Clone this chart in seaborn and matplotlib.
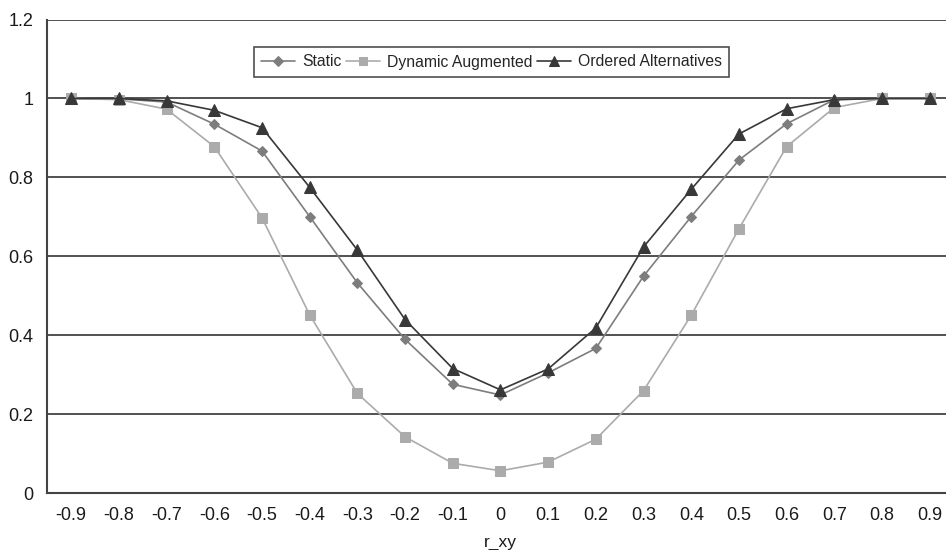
import matplotlib
matplotlib.use("Agg")
import matplotlib.pyplot as plt
import matplotlib.ticker as ticker
import pandas as pd
import seaborn as sns

r_xy = ['-0.9', '-0.8', '-0.7', '-0.6', '-0.5', '-0.4', '-0.3', '-0.2', '-0.1', '0',
        '0.1', '0.2', '0.3', '0.4', '0.5', '0.6', '0.7', '0.8', '0.9']

static = [1.0, 0.999, 0.991, 0.935, 0.867, 0.701, 0.533, 0.390, 0.276, 0.249,
          0.305, 0.367, 0.550, 0.701, 0.844, 0.936, 0.997, 1.0, 1.0]
dynamic_augmented = [1.0, 0.997, 0.973, 0.878, 0.698, 0.452, 0.253, 0.143, 0.076, 0.057,
                     0.079, 0.137, 0.260, 0.451, 0.670, 0.878, 0.977, 1.0, 1.0]
ordered_alternatives = [1.0, 1.0, 0.994, 0.970, 0.926, 0.775, 0.616, 0.440, 0.316, 0.262,
                        0.315, 0.419, 0.624, 0.770, 0.910, 0.974, 0.997, 1.0, 1.0]

series = ['Static', 'Dynamic Augmented', 'Ordered Alternatives']
colors = {'Static': '#7d7d7d', 'Dynamic Augmented': '#ababab', 'Ordered Alternatives': '#383838'}
markers = {'Static': 'D', 'Dynamic Augmented': 's', 'Ordered Alternatives': '^'}
sizes = {'Static': 5.5, 'Dynamic Augmented': 7, 'Ordered Alternatives': 8}

dt = pd.DataFrame({'pos': list(range(len(r_xy))), 'r_xy': r_xy,
                   'Static': static, 'Dynamic Augmented': dynamic_augmented,
                   'Ordered Alternatives': ordered_alternatives})
dt = dt.melt(id_vars=['pos', 'r_xy'], var_name='Series', value_name='Value')

sns.set_style('white')
plt.rcParams['font.family'] = ['Liberation Sans', 'DejaVu Sans']

fig = plt.figure(figsize=(9.46, 5.5), dpi=100)
ax = fig.add_axes([47.3 / 946, 56.7 / 550, (953.6 - 47.3) / 946, (493.3 - 19.5) / 550])

for s in series:
    sub = dt[dt['Series'] == s]
    sns.lineplot(data=sub, x='pos', y='Value', ax=ax, color=colors[s], marker=markers[s],
                 markersize=sizes[s], markeredgecolor=colors[s], markerfacecolor=colors[s],
                 linewidth=1.2, label=s)

ax.set_xlim(-0.5, len(r_xy) - 0.5)
ax.set_ylim(0, 1.2)
ax.set_yticks([0, 0.2, 0.4, 0.6, 0.8, 1.0, 1.2])
ax.yaxis.set_major_formatter(ticker.FuncFormatter(lambda v, p: f'{v:g}'))
ax.set_xticks(range(len(r_xy)))
ax.set_xticklabels(r_xy)
ax.set_xticks([i - 0.5 for i in range(len(r_xy) + 1)], minor=True)
ax.tick_params(axis='x', which='major', length=0, labelsize=13, pad=10, colors='#1a1a1a')
ax.tick_params(axis='x', which='minor', length=5, width=1.2, color='#444444', direction='out')
ax.tick_params(axis='y', which='major', length=5, width=1.2, color='#444444', direction='out',
               labelsize=13, pad=5, labelcolor='#1a1a1a')
ax.set_axisbelow(True)
ax.grid(axis='y', color='#222222', linewidth=1.1)

for side in ['top', 'right']:
    ax.spines[side].set_visible(False)
for side in ['left', 'bottom']:
    ax.spines[side].set_color('#444444')
    ax.spines[side].set_linewidth(1.5)

ax.set_xlabel('r_xy', fontsize=12.5, labelpad=8, color='#1a1a1a')
ax.set_ylabel('')

leg = ax.legend(loc='center', bbox_to_anchor=(491.5 / 946, (550 - 62) / 550),
                bbox_transform=fig.transFigure, ncol=3, fontsize=11.3, frameon=True,
                fancybox=False, edgecolor='#222222', handlelength=2.2, handletextpad=0.45,
                columnspacing=0.25, borderpad=0.45, markerscale=0.85)
leg.get_frame().set_linewidth(1.2)

fig.savefig('out.png', dpi=100)
